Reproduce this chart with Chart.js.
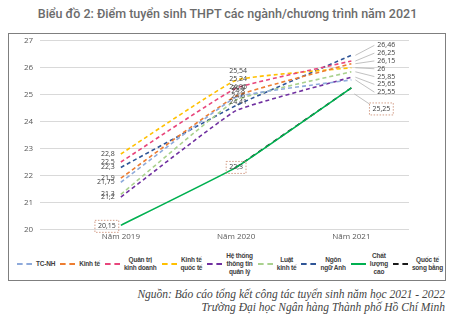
<!DOCTYPE html>
<html>
<head>
<meta charset="utf-8">
<script src="https://cdn.jsdelivr.net/npm/chart.js@4"></script>
<style>
  body { margin: 0; background: #fff; width: 455px; height: 326px; overflow: hidden; position: relative; font-family: 'Open Sans', sans-serif; }
  .title { position: absolute; top: 6px; left: 0; width: 455px; text-align: center; font-family: Roboto, sans-serif; font-weight: 500; font-size: 12.5px; color: #6b6b6b; }
  .frame { position: absolute; left: 8px; top: 33px; width: 438px; height: 248px; border: 1px solid #7f7f7f; box-sizing: border-box; }
  .plot { position: relative; width: 436px; height: 219px; margin-top: -5px; }
  .legend { display: flex; align-items: center; justify-content: flex-end; padding-right: 2px; height: 32px; }
  .item { display: flex; align-items: center; margin-left: 5px; flex-shrink: 0; }
  .sample { width: 15px; height: 0; border-top: 2px dashed; margin-right: 4px; flex-shrink: 0; }
  .txt { font-family: 'Liberation Sans', sans-serif; font-weight: bold; font-size: 6.5px; line-height: 8px; color: #404040; text-align: center; white-space: nowrap; letter-spacing: -0.2px; }
  .source { position: absolute; right: 10px; top: 288px; text-align: right; font-family: 'Liberation Serif', serif; font-style: italic; font-size: 11.5px; line-height: 13px; color: #444; }
</style>
</head>
<body>
<div class="title">Biểu đồ 2: Điểm tuyển sinh THPT các ngành/chương trình năm 2021</div>
<div class="frame">
  <div class="plot"><canvas id="chart"></canvas></div>
  <div class="legend" id="legend"></div>
</div>
<div class="source">Nguồn: Báo cáo tổng kết công tác tuyển sinh năm học 2021 - 2022<br>Trường Đại học Ngân hàng Thành phố Hồ Chí Minh</div>
<script>
// categories
const years = ['Năm 2019', 'Năm 2020', 'Năm 2021'];
const yTicks = [20, 21, 22, 23, 24, 25, 26, 27];

// series (điểm chuẩn)
const tcNh = [21.75, 24.9, 25.55];
const kinhTe = [21.9, 24.95, 26.15];
const quanTri = [22.5, 25.24, 26.25];
const kinhTeQuocTe = [22.8, 25.54, 26];
const heThongTT = [21.2, 24.41, 25.65];
const luatKinhTe = [21.3, 24.8, 25.85];
const ngonNguAnh = [22.3, 24.6, 26.46];
const chatLuongCao = [20.15, 22.3, 25.25];
const songBang = [null, 22.3, 25.25];

function pts(arr) {
    return arr.map((v, i) => ({ x: i, y: v }));
}

function dashed(label, values, color, extra) {
    return Object.assign({
        label: label,
        data: pts(values),
        borderColor: color,
        backgroundColor: color,
        borderWidth: 1.6,
        borderDash: [4, 3],
        pointRadius: 0,
        tension: 0.1,
        legendText: [label]
    }, extra || {});
}

const datasets = [
    dashed('TC-NH', tcNh, '#8eaadb', { legendText: ['TC-NH'] }),
    dashed('Kinh tế', kinhTe, '#ed7d31', { legendText: ['Kinh tế'] }),
    dashed('Quản trị kinh doanh', quanTri, '#e8467c', { legendText: ['Quản trị', 'kinh doanh'] }),
    dashed('Kinh tế quốc tế', kinhTeQuocTe, '#ffc000', { legendText: ['Kinh tế', 'quốc tế'] }),
    dashed('Hệ thống thông tin quản lý', heThongTT, '#7030a0', { legendText: ['Hệ thống', 'thông tin', 'quản lý'] }),
    dashed('Luật kinh tế', luatKinhTe, '#a9d18e', { legendText: ['Luật', 'kinh tế'] }),
    dashed('Ngôn ngữ Anh', ngonNguAnh, '#2f5597', { legendText: ['Ngôn', 'ngữ Anh'] }),
    dashed('Chất lượng cao', chatLuongCao, '#00b050', { borderDash: [], borderWidth: 1.6, boxed: true, legendText: ['Chất', 'lượng', 'cao'] }),
    dashed('Quốc tế song bằng', songBang, '#1a1a1a', { borderDash: [5, 4], noLabel: true, legendText: ['Quốc tế', 'song bằng'] })
];

function fmt(v) {
    return String(v).replace('.', ',');
}

// value labels drawn next to the line ends
const valueLabels = {
    id: 'valueLabels',
    afterDatasetsDraw(chart) {
        const ctx = chart.ctx;
        ctx.save();
        ctx.font = '7px "Open Sans", sans-serif';
        ctx.fillStyle = '#404040';
        ctx.textBaseline = 'middle';

        // last year: spread labels with leader lines
        const ends = [];
        chart.data.datasets.forEach((ds, di) => {
            if (ds.noLabel) return;
            const meta = chart.getDatasetMeta(di);
            meta.data.forEach((p, i) => {
                const v = ds.data[i].y;
                if (v === null) return;
                if (ds.boxed) {
                    let bx = p.x, by = p.y;
                    if (i === 0) { bx = p.x - 14; by = p.y + 1; }
                    if (i === 2) {
                        bx = p.x + 30; by = p.y + 21;
                        ctx.strokeStyle = '#a6a6a6';
                        ctx.lineWidth = 0.7;
                        ctx.beginPath();
                        ctx.moveTo(p.x + 3, p.y + 6);
                        ctx.lineTo(p.x + 18, by - 5);
                        ctx.stroke();
                    }
                    const t = fmt(v);
                    const w = ctx.measureText(t).width + 6;
                    ctx.setLineDash([1.5, 1.5]);
                    ctx.strokeStyle = '#c9866b';
                    ctx.lineWidth = 0.8;
                    ctx.strokeRect(bx - w / 2, by - 6, w, 12);
                    ctx.setLineDash([]);
                    ctx.textAlign = 'center';
                    ctx.fillText(t, bx, by);
                    return;
                }
                if (i === 0) {
                    ctx.textAlign = 'right';
                    ctx.fillText(fmt(v), p.x - 6, p.y);
                } else if (i === 1) {
                    ctx.textAlign = 'center';
                    ctx.fillText(fmt(v), p.x + 2, p.y - 9);
                } else {
                    ends.push({ p: p, v: v });
                }
            });
        });

        ends.sort((a, b) => b.v - a.v);
        const top = ends.length ? ends[0].p.y - 10 : 0;
        ends.forEach((e, k) => {
            const ly = top + k * 7.8;
            const lx = e.p.x + 26;
            ctx.strokeStyle = '#a6a6a6';
            ctx.lineWidth = 0.7;
            ctx.beginPath();
            ctx.moveTo(e.p.x + 4, e.p.y);
            ctx.lineTo(lx - 3, ly);
            ctx.stroke();
            ctx.textAlign = 'left';
            ctx.fillText(fmt(e.v), lx, ly);
        });
        ctx.restore();
    }
};

new Chart(document.getElementById('chart'), {
    type: 'line',
    data: { datasets: datasets },
    options: {
        responsive: true,
        maintainAspectRatio: false,
        animation: false,
        layout: { padding: { left: 8, right: 36, top: 0, bottom: 3 } },
        plugins: {
            legend: { display: false },
            tooltip: { enabled: false }
        },
        scales: {
            x: {
                type: 'linear',
                min: -0.7,
                max: 2.5,
                afterBuildTicks: scale => {
                    scale.ticks = years.map((_, i) => ({ value: i }));
                },
                ticks: {
                    callback: v => years[v] || '',
                    font: { size: 8, family: 'Open Sans' },
                    color: '#595959',
                    padding: 3,
                    maxRotation: 0
                },
                grid: { display: false, drawTicks: false },
                border: { display: false }
            },
            y: {
                min: yTicks[0],
                max: yTicks[yTicks.length - 1],
                afterBuildTicks: scale => {
                    scale.ticks = yTicks.map(v => ({ value: v }));
                },
                ticks: {
                    font: { size: 8, family: 'Open Sans' },
                    color: '#595959',
                    padding: 7
                },
                grid: { color: '#d9d9d9', drawTicks: false },
                border: { display: false }
            }
        }
    },
    plugins: [valueLabels]
});

// legend built from the same datasets
const legendEl = document.getElementById('legend');
datasets.forEach(ds => {
    const item = document.createElement('div');
    item.className = 'item';
    const sample = document.createElement('div');
    sample.className = 'sample';
    sample.style.borderTopColor = ds.borderColor;
    if (!ds.borderDash.length) sample.style.borderTopStyle = 'solid';
    const txt = document.createElement('div');
    txt.className = 'txt';
    txt.innerHTML = ds.legendText.join('<br>');
    item.appendChild(sample);
    item.appendChild(txt);
    legendEl.appendChild(item);
});
</script>
</body>
</html>
